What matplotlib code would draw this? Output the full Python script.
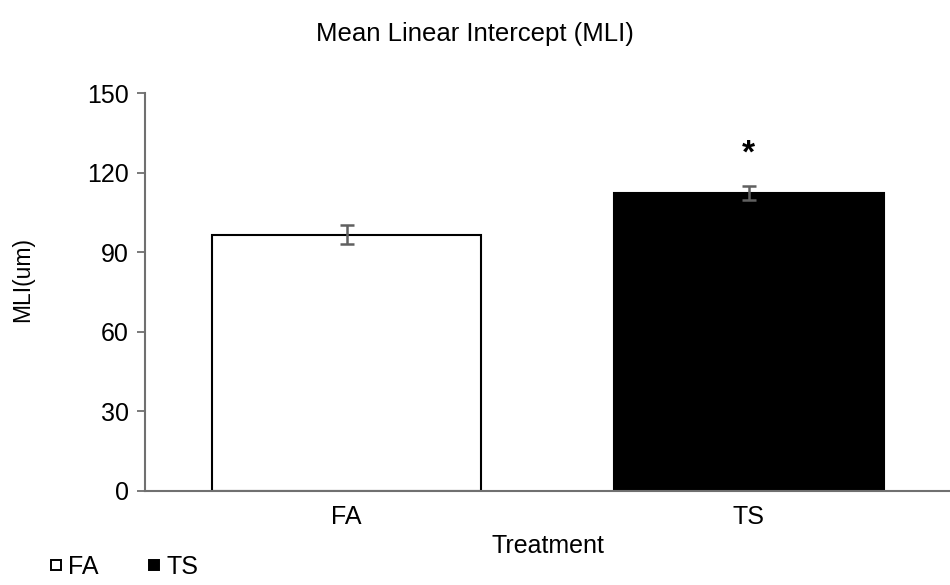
import matplotlib.pyplot as plt
from matplotlib.lines import Line2D

plt.rcParams['font.family'] = ['Liberation Sans', 'DejaVu Sans']

treatments = ["FA", "TS"]
mli = [96.5, 112.3]
sem = [3.6, 2.8]
bar_colors = ["white", "black"]
tick_values = [0, 30, 60, 90, 120, 150]

fig = plt.figure(figsize=(9.5, 5.85), dpi=100)
ax = fig.add_axes([0.153, 0.161, 0.847, 0.68])

x = range(len(treatments))
ax.bar(x, mli, width=0.67, color=bar_colors, edgecolor="black", linewidth=1.5, zorder=2)
ax.errorbar(x, mli, yerr=sem, fmt="none", ecolor="#606060", elinewidth=1.8,
            capsize=5, capthick=1.8, zorder=3)
ax.text(1, mli[1] + sem[1] + 12, "*", ha="center", va="center", fontsize=24, fontweight="bold")

ax.set_xlim(-0.5, 1.5)
ax.set_ylim(0, 150)
ax.set_yticks(tick_values)
ax.set_xticks(list(x))
ax.set_xticklabels(treatments)
ax.tick_params(axis="y", direction="out", length=6, width=1.3, color="#707070", labelsize=18, pad=6)
ax.tick_params(axis="x", length=0, labelsize=18, pad=10)
for s in ["top", "right"]:
    ax.spines[s].set_visible(False)
for s in ["left", "bottom"]:
    ax.spines[s].set_color("#707070")
    ax.spines[s].set_linewidth(1.5)

ax.set_xlabel("Treatment", fontsize=18, labelpad=4)
ax.set_ylabel("MLI(um)", fontsize=16.5)
ax.yaxis.set_label_coords(-0.138, 0.53)
fig.suptitle("Mean Linear Intercept (MLI)", fontsize=18.5, x=0.5, y=0.962)

handles = [Line2D([], [], marker="s", linestyle="none", markersize=7.5,
                  markerfacecolor=c, markeredgecolor="black", markeredgewidth=1.4)
           for c in bar_colors]
fig.legend(handles, treatments, loc="lower left", bbox_to_anchor=(0.022, -0.028),
           ncol=2, frameon=False, fontsize=18, handletextpad=0.0,
           columnspacing=1.7, handlelength=1.0)

fig.savefig("out.png", dpi=100)
